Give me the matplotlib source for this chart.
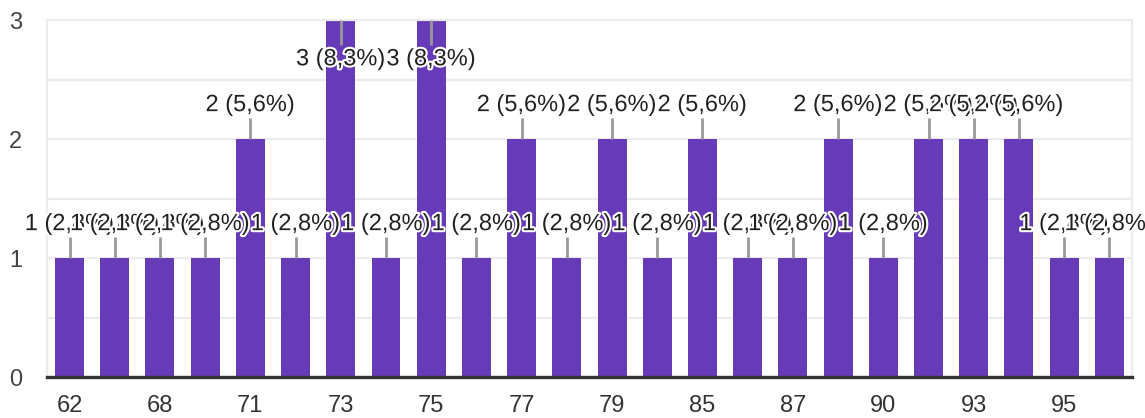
import matplotlib
matplotlib.use("Agg")
import matplotlib.pyplot as plt
import matplotlib.patheffects as pe
import numpy as np

# answers (only every other one gets a tick label in the original)
categories = ["62", "65", "68", "70", "71", "72", "73", "74", "75", "76", "77", "78",
              "79", "80", "85", "86", "87", "88", "90", "92", "93", "94", "95", "98"]
counts = [1, 1, 1, 1, 2, 1, 3, 1, 3, 1, 2, 1,
          2, 1, 2, 1, 1, 2, 1, 2, 2, 2, 1, 1]

total = sum(counts)
bar_color = "#673ab7"
plt.rcParams["font.family"] = ["Liberation Sans", "DejaVu Sans"]

fig = plt.figure(figsize=(11.45, 4.18), dpi=100)
ax = fig.add_axes([0.041, 0.098, 0.9476, 0.854])

x = np.arange(len(categories))
ax.bar(x, counts, width=0.64, color=bar_color, zorder=2)

ax.set_xlim(-0.5, len(categories) - 0.5)
ax.set_ylim(0, 3)

# grid: integers and halves, light grey
ax.set_yticks([0, 1, 2, 3])
ax.set_yticks([0.5, 1.5, 2.5], minor=True)
ax.grid(axis="y", which="both", color="#ececec", linewidth=1.6, zorder=0)
ax.tick_params(axis="y", which="both", length=0, pad=18, labelsize=17, labelcolor="#444444")

ax.set_xticks(x[::2])
ax.set_xticklabels(categories[::2])
ax.tick_params(axis="x", length=0, pad=13, labelsize=17, labelcolor="#333333")

for side in ["top", "right", "left"]:
    ax.spines[side].set_color("#ececec")
    ax.spines[side].set_linewidth(1.6)
ax.spines["bottom"].set_color("#333333")
ax.spines["bottom"].set_linewidth(2.4)
ax.spines["bottom"].set_zorder(5)

# value labels with leader lines, white halo, later ones on top
halo = [pe.withStroke(linewidth=3, foreground="white")]
for i, c in enumerate(counts):
    pct = f"{c / total * 100:.1f}".replace(".", ",")
    label = f"{c} ({pct}%)"
    if c >= 3:
        y0, y1, ty = c, c - 0.21, c - 0.33
    else:
        y0, y1, ty = c, c + 0.18, c + 0.285
    ax.plot([i, i], [y0, y1], color="#999999", linewidth=2, zorder=3 + i * 0.01,
            solid_capstyle="butt", clip_on=False)
    ax.text(i, ty, label, ha="center", va="center", fontsize=17, color="#222222",
            path_effects=halo, zorder=4 + i * 0.01, clip_on=False)

fig.savefig("out.png", dpi=100)
